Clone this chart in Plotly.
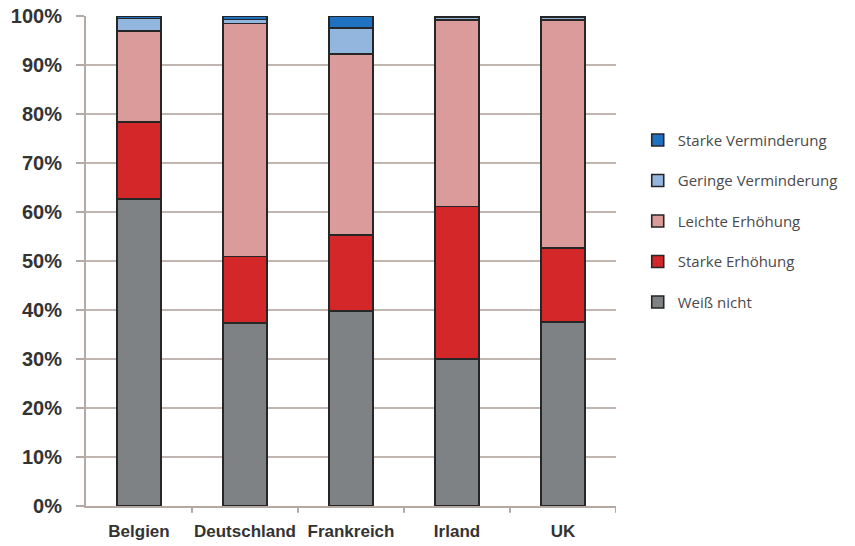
import plotly.graph_objects as go

countries = ["Belgien", "Deutschland", "Frankreich", "Irland", "UK"]
weiss_nicht = [62.7, 37.3, 39.8, 30.0, 37.6]
starke_erhoehung = [15.7, 13.6, 15.5, 31.1, 15.0]
leichte_erhoehung = [18.5, 47.6, 36.9, 38.1, 46.6]
geringe_verminderung = [2.6, 0.8, 5.3, 0.5, 0.5]
starke_verminderung = [0.5, 0.7, 2.5, 0.3, 0.3]

series = [
    ("Weiß nicht", weiss_nicht, "#7f8284"),
    ("Starke Erhöhung", starke_erhoehung, "#d4272a"),
    ("Leichte Erhöhung", leichte_erhoehung, "#dc9b9b"),
    ("Geringe Verminderung", geringe_verminderung, "#93b6de"),
    ("Starke Verminderung", starke_verminderung, "#1f72c2"),
]

xpos = list(range(len(countries)))
fig = go.Figure()
n = len(series)
for i, (name, vals, col) in enumerate(series):
    fig.add_trace(go.Bar(
        x=xpos, y=vals, name=name, legendgroup=name, legendrank=n - i,
        marker=dict(color=col, line=dict(color="#262626", width=1.6)),
        width=0.42,
    ))

axcol = "#b5a9a4"
fig.update_layout(
    barmode="stack",
    width=855, height=546,
    margin=dict(l=86, r=232, t=16, b=40),
    plot_bgcolor="white", paper_bgcolor="white",
    font=dict(family="Liberation Sans, Arial, sans-serif", color="#333333"),
    legend=dict(
        traceorder="grouped", tracegroupgap=18,
        x=1.041, y=0.78, xanchor="left", yanchor="top",
        font=dict(size=15, color="#4a4a4a", family="Open Sans, sans-serif"),
        bgcolor="rgba(0,0,0,0)",
    ),
    xaxis=dict(
        range=[-0.5, 4.5], automargin=False,
        tickmode="array", tickvals=xpos,
        ticktext=[f"<b>{c}</b>" for c in countries],
        tickfont=dict(size=17, color="#333333"),
        showline=True, linecolor=axcol, linewidth=2,
        showgrid=False, ticks="", ticklabelstandoff=9,
    ),
    yaxis=dict(
        range=[0, 100], automargin=False,
        tickvals=list(range(0, 101, 10)),
        ticktext=[f"<b>{v}%</b>" for v in range(0, 101, 10)],
        tickfont=dict(size=20, color="#333333"),
        showline=True, linecolor=axcol, linewidth=2,
        gridcolor="#c2b6b1", gridwidth=2,
        ticks="outside", ticklen=8, tickcolor=axcol, tickwidth=2,
        ticklabelstandoff=10,
        zeroline=False,
    ),
)

# category separator ticks on x axis
for b in [0.5, 1.5, 2.5, 3.5, 4.5]:
    fig.add_shape(type="line", xref="x", yref="paper", x0=b, x1=b, y0=0, y1=-0.014,
                  line=dict(color=axcol, width=2))

fig.write_html("out.html")
